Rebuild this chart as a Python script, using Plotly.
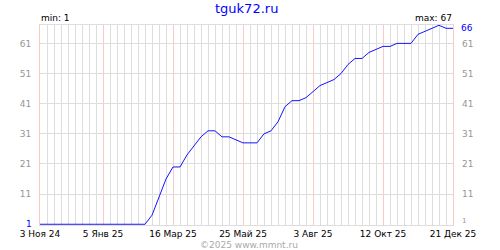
import pandas as pd
import plotly.graph_objects as go

start_date = "2024-11-03"
values = [1, 1, 1, 1, 1, 1, 1, 1, 1, 1, 1, 1, 1, 1, 1, 1,
          4, 10, 16, 20, 20, 24, 27, 30, 32, 32,
          30, 30, 29, 28, 28, 28, 31, 32, 35, 40,
          42, 42, 43, 45, 47, 48, 49, 51, 54, 56,
          56, 58, 59, 60, 60, 61, 61, 61, 64, 65,
          66, 67, 66, 66]
dates = pd.date_range(start_date, periods=len(values), freq="7D")

major_ticks = ["2024-11-03", "2025-01-05", "2025-03-16", "2025-05-25",
               "2025-08-03", "2025-10-12", "2025-12-21"]
major_labels = ["3 Ноя 24", "5 Янв 25", "16 Мар 25", "25 Май 25",
                "3 Авг 25", "12 Окт 25", "21 Дек 25"]
y_ticks = [11, 21, 31, 41, 51, 61]
title_text = "tguk72.ru"
min_text = "min: 1"
max_text = "max: 67"
last_text = "66"
first_text = "1"
right_bottom_text = "1"
copyright_text = "©2025 www.mmnt.ru"

FONT = "DejaVu Sans"
GRID = "rgb(221,221,221)"
PINK = "rgb(255,200,200)"
TICKGRAY = "rgb(150,150,150)"
WEEK = 7 * 86400000
YR = [0.75, 67.1]

fig = go.Figure()
fig.add_trace(go.Scatter(x=dates, y=values, mode="lines",
                         line=dict(color="rgb(20,20,255)", width=1),
                         hoverinfo="skip", showlegend=False))

fig.update_layout(
    width=500, height=250,
    margin=dict(l=40, r=47, t=25, b=25),
    paper_bgcolor="white", plot_bgcolor="white",
    showlegend=False,
    xaxis=dict(
        type="date", range=["2024-11-03", "2025-12-21"],
        tickmode="array", tickvals=major_ticks, ticktext=major_labels,
        showgrid=True, gridcolor=PINK, gridwidth=1,
        minor=dict(dtick=WEEK, tick0="2024-11-03", showgrid=True,
                   gridcolor=GRID, gridwidth=1),
        showline=True, linecolor=GRID, linewidth=1, mirror=True,
        ticks="", tickfont=dict(family=FONT, size=9, color="black"),
        zeroline=False, fixedrange=True,
    ),
    yaxis=dict(
        range=YR, tickmode="array", tickvals=y_ticks,
        showgrid=True, gridcolor=GRID, gridwidth=1,
        showline=True, linecolor=PINK, linewidth=1, mirror=True,
        ticks="", ticklabelstandoff=6,
        tickfont=dict(family=FONT, size=9, color=TICKGRAY),
        zeroline=False, fixedrange=True,
    ),
    yaxis2=dict(
        range=YR, tickmode="array", tickvals=y_ticks,
        overlaying="y", side="right", showgrid=False, zeroline=False,
        ticks="", ticklabelstandoff=8,
        tickfont=dict(family=FONT, size=9, color=TICKGRAY),
        fixedrange=True,
    ),
)
fig.add_trace(go.Scatter(x=[dates[0]], y=[values[0]], yaxis="y2", mode="markers",
                         marker=dict(opacity=0), hoverinfo="skip", showlegend=False))

ann = [
    dict(text=title_text, x=0.5, y=1.0, xref="paper", yref="paper",
         xanchor="center", yanchor="top", yshift=26,
         font=dict(family=FONT, size=13, color="rgb(0,0,255)")),
    dict(text=min_text, x=0, y=1, xref="paper", yref="paper",
         xanchor="left", yanchor="bottom", xshift=-1,
         font=dict(family=FONT, size=9, color="black")),
    dict(text=max_text, x=1, y=1, xref="paper", yref="paper",
         xanchor="right", yanchor="bottom", xshift=1,
         font=dict(family=FONT, size=9, color="black")),
    dict(text=last_text, x=1, y=values[-1], xref="paper", yref="y",
         xanchor="left", yanchor="middle", xshift=6,
         font=dict(family=FONT, size=9, color="rgb(0,0,255)")),
    dict(text=first_text, x=0, y=values[0], xref="paper", yref="y",
         xanchor="right", yanchor="middle", xshift=-6,
         font=dict(family=FONT, size=9, color="rgb(0,0,255)")),
    dict(text=right_bottom_text, x=1, y=values[0], xref="paper", yref="y",
         xanchor="left", yanchor="middle", xshift=7, yshift=3,
         font=dict(family=FONT, size=7, color=TICKGRAY)),
    dict(text=copyright_text, x=0.5, y=0, xref="paper", yref="paper",
         xanchor="center", yanchor="top", yshift=-13, xshift=2,
         font=dict(family=FONT, size=9, color="rgb(170,170,170)")),
]
for a in ann:
    a["showarrow"] = False
fig.update_layout(annotations=ann)

fig.write_html("out.html")
